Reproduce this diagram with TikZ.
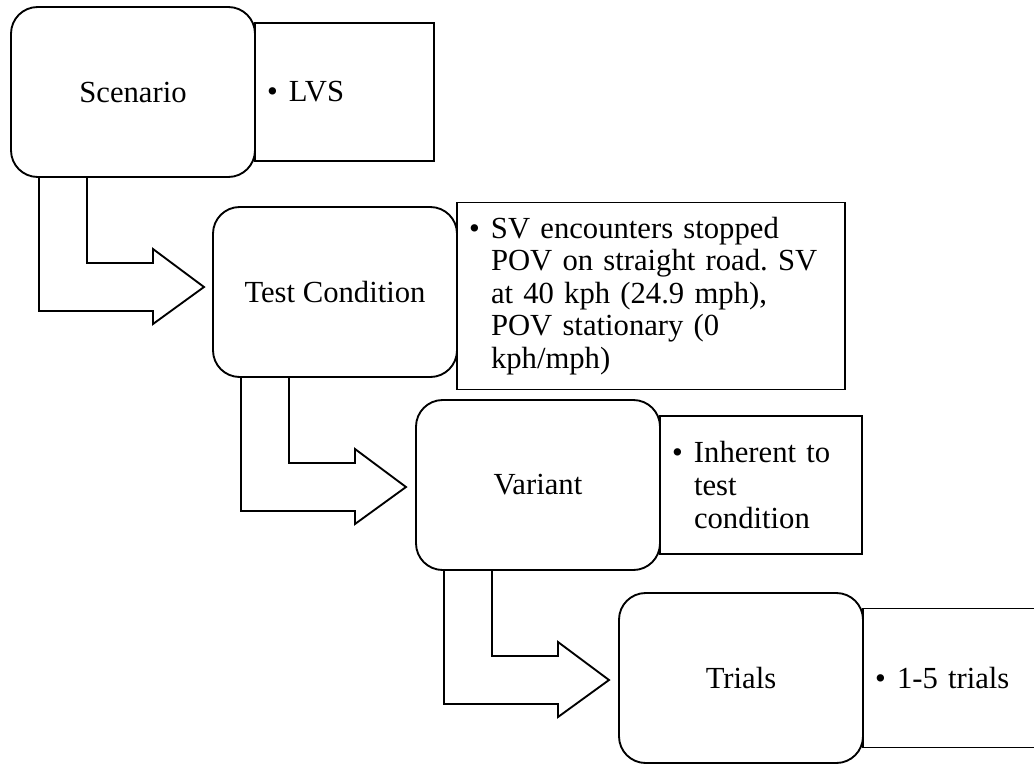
\documentclass[tikz,border=0pt]{standalone}
\usepackage{fontspec}
\setmainfont{Liberation Serif}
\usetikzlibrary{positioning}

\frenchspacing
\newcommand{\bul}[1]{\noindent\makebox[16.5pt][l]{\textbullet}\parbox[t]{\dimexpr\hsize-16.5pt}{#1}}

\begin{document}
\begin{tikzpicture}[x=0.75pt, y=-0.75pt, font=\fontsize{23}{24.4}\selectfont]
        \tikzstyle{stage} = [draw, line width=1.4pt, outer sep=0pt, rounded corners=20pt, minimum width=183pt, minimum height=127.5pt, align=center]
        \tikzstyle{note} = [draw, line width=1.4pt, outer sep=0pt, inner xsep=9pt, align=left]
        \tikzstyle{turnarrow} = [draw, line width=1.4pt, line join=miter]

		\useasboundingbox (0,0) rectangle (1034,764);
		\clip (0,0) rectangle (1034,764);

		% stages
		\node[stage] (scn) at (133,92) {Scenario};
		\node[stage] (tcond) at (335,292) {Test Condition};
		\node[stage] (vari) at (538,485) {Variant};
		\node[stage] (trl) at (741,678) {Trials};

		% notes
		\node[note, right=0pt of scn, text width=116.25pt, minimum height=103.5pt] (scnnote) {\bul{LVS}};
		\node[note, right=0pt of tcond, yshift=-3pt, text width=273pt, minimum height=140.25pt] (tcondnote) {\bul{SV encounters stopped\\POV on straight road. SV\\at 40 kph (24.9 mph),\\POV stationary (0\\kph/mph)}};
		\node[note, right=0pt of vari, text width=133.5pt, minimum height=103.5pt] (varinote) {\bul{Inherent to\\test\\condition}};
		\node[note, right=0pt of trl, text width=132pt, minimum height=104.25pt] (trlnote) {\bul{1-5 trials}};

		% bent arrows
		\draw[turnarrow, shift={(scn.south west)}] (28,0) -- ++(0,134) -- ++(114,0) -- ++(0,13) -- ++(51,-37) -- ++(-51,-38) -- ++(0,14) -- ++(-66,0) -- ++(0,-86) -- cycle;
		\draw[turnarrow, shift={(tcond.south west)}] (28,0) -- ++(0,134) -- ++(114,0) -- ++(0,13) -- ++(51,-37) -- ++(-51,-38) -- ++(0,14) -- ++(-66,0) -- ++(0,-86) -- cycle;
		\draw[turnarrow, shift={(vari.south west)}] (28,0) -- ++(0,134) -- ++(114,0) -- ++(0,13) -- ++(51,-37) -- ++(-51,-38) -- ++(0,14) -- ++(-66,0) -- ++(0,-86) -- cycle;

    \end{tikzpicture}
\end{document}
